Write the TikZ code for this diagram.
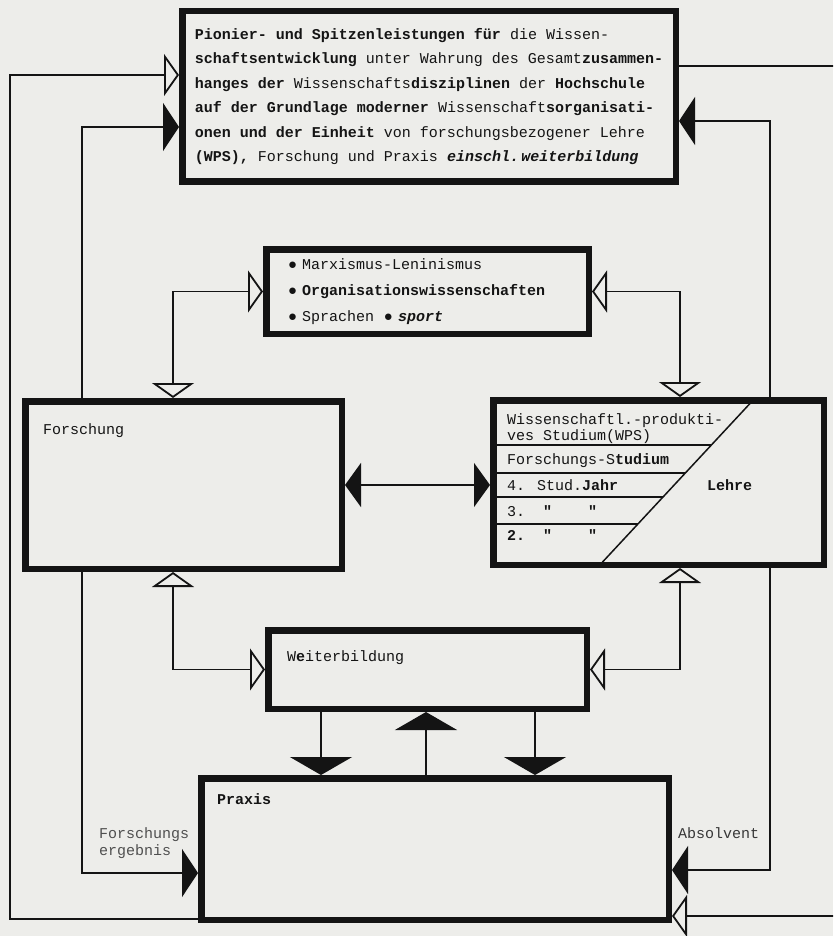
\documentclass[tikz,border=0pt]{standalone}
\usepackage{fontspec}
\setmainfont{Liberation Mono}[WordSpace={1,0,0}]
\newfontfamily\plainmono{Liberation Mono}
\usetikzlibrary{arrows.meta,positioning,calc}
\definecolor{paper}{HTML}{EDEDEA}
\definecolor{ink}{HTML}{141414}
\newcommand{\ditto}{{\plainmono\bfseries\symbol{34}}}
\tikzset{
  typed/.style={font=\fontsize{15pt}{24.5pt}\selectfont, text=ink},
  heavybox/.style={draw=ink, line width=6.5pt, rectangle, anchor=north west, inner sep=0pt},
  link/.style={draw=ink, line width=1.8pt},
  rowline/.style={draw=ink, line width=1.5pt},
  fulltip/.style={-{Triangle[length=16pt,width=48pt]}},
  fulltips/.style={{Triangle[length=16pt,width=44pt]}-{Triangle[length=16pt,width=44pt]}},
  hollowtip/.style={-{Triangle[open,length=15pt,width=42pt]}},
  hollowtips/.style={{Triangle[open,length=15pt,width=42pt]}-{Triangle[open,length=15pt,width=42pt]}},
  wbtip/.style={-{Triangle[length=18pt,width=62pt]}},
  tag/.style={anchor=base west, inner sep=0pt},
}
\begin{document}
\begin{tikzpicture}[x=1pt,y=-1pt, every node/.style={typed}]
  \fill[paper] (0,0) rectangle (833,936);
  \useasboundingbox (0,0) rectangle (833,936);

  % boxes
  \node[heavybox, minimum width=493.5pt, minimum height=170.5pt, align=left] (top) at (179,8) {%
    \textbf{Pionier- und Spitzenleistungen für} die Wissen-\\
    \textbf{schaftsentwicklung} unter Wahrung des Gesamt\textbf{zusammen-}\\
    \textbf{hanges der} Wissenschafts\textbf{disziplinen} der \textbf{Hochschule}\\
    \textbf{auf der Grundlage moderner} Wissenschaft\textbf{sorganisati-}\\
    \textbf{onen und der Einheit} von forschungsbezogener Lehre\\
    \textbf{(WPS),} Forschung und Praxis \textbf{\itshape einschl.\,weiterbildung}};
  \node[heavybox, minimum width=322.5pt, minimum height=84.5pt,
        text width=279pt, align=left, inner xsep=21.75pt,
        font=\fontsize{15pt}{26pt}\selectfont] (mk) at (263,246) {%
    ● Marxismus-Leninismus\\
    ● \textbf{Organisationswissenschaften}\\
    ● Sprachen\ \ ● \textbf{\itshape sport}};
  \node[heavybox, minimum width=316.5pt, minimum height=167.5pt] (fo) at (22,398) {};
  \node[heavybox, minimum width=330.5pt, minimum height=164.5pt] (le) at (490,397) {};
  \node[heavybox, minimum width=318.5pt, minimum height=78.5pt] (wb) at (265,627) {};
  \node[heavybox, minimum width=467.5pt, minimum height=141.5pt] (pr) at (198,775) {};

  % box titles
  \node[tag] (foname) at ($(fo.north west)+(21,36)$) {Forschung};
  \node[tag] (wbname) at ($(wb.north west)+(22,34)$) {W\textbf{e}iterbildung};
  \node[tag] (prname) at ($(pr.north west)+(19,29)$) {\textbf{Praxis}};

  % Lehre table
  \coordinate (dtop) at ($(le.north west)+(263,3.25)$);
  \coordinate (dbot) at ($(le.south west)+(110,-3.25)$);
  \draw[rowline] (dtop) -- (dbot);
  \foreach \t/\rowname in {0.273/r1,0.442/r2,0.588/r3,0.752/r4}{
    \coordinate (\rowname) at ($(dtop)!\t!(dbot)$);
    \draw[rowline] (le.west |- \rowname) -- (\rowname);
  }
  \node[tag, align=left, font=\fontsize{15pt}{16pt}\selectfont] (wps) at (507,440)
    {Wissenschaftl.-produkti-\\ves Studium(WPS)};
  \node[tag] (fstud) at (507,464) {Forschungs-S\textbf{tudium}};
  \node[tag] (jahr4) at (507,490) {4. Stud.\textbf{Jahr}};
  \node[tag] (jahr3) at (507,516) {3.\ \ \ditto\ \ \ \ \ditto};
  \node[tag] (jahr2) at (507,540) {\textbf{2.}\ \ \ditto\ \ \ \ \ditto};
  \node[tag] (lehre) at (707,490) {\textbf{Lehre}};

  % connector labels
  \node[tag, align=left, text=ink!75, font=\fontsize{15pt}{17pt}\selectfont] (ergebnis) at (99,855)
    {Forschungs\\ergebnis};
  \node[tag, text=ink!85] (absolvent) at (678,838) {Absolvent};

  % connector lanes
  \coordinate (xfo) at (82,0);
  \coordinate (xa) at (173,0);
  \coordinate (xb) at (680,0);
  \coordinate (xle) at (770,0);
  \coordinate (xout) at (10,0);
  \coordinate (xfar) at (860,0);
  \coordinate (xw1) at (321,0);
  \coordinate (xw2) at (426,0);
  \coordinate (xw3) at (535,0);
  \coordinate (topin) at ([yshift=21.5pt]top.west);
  \coordinate (prout) at ([yshift=-70pt]pr.west);
  \coordinate (prin) at ([yshift=-67pt]pr.east);

  % connectors
  \draw[link,fulltip] (fo.north -| xfo) |- ([yshift=-30.5pt]top.west);
  \draw[link,fulltip] (le.north -| xle) |- ([yshift=-24.5pt]top.east);
  \draw[link,hollowtip] (prout) -| (xout |- topin) -- (topin);
  \begin{scope}
    \clip (0,0) rectangle (833,936);
    \draw[link,hollowtip] ([yshift=30.5pt]top.east) -| (xfar |- prin) -- (prin);
  \end{scope}
  \draw[link,hollowtips] (fo.north -| xa) |- (mk.west);
  \draw[link,hollowtips] (le.north -| xb) |- (mk.east);
  \draw[link,hollowtips] (fo.south -| xa) |- (wb.west);
  \draw[link,hollowtips] (le.south -| xb) |- (wb.east);
  \draw[link,fulltips] (fo.east) -- (fo.east -| le.west);
  \draw[link,fulltip] (fo.south -| xfo) |- ([yshift=-24pt]pr.west);
  \draw[link,fulltip] (le.south -| xle) |- ([yshift=-21pt]pr.east);
  \draw[link,wbtip] (wb.south -| xw1) -- (pr.north -| xw1);
  \draw[link,wbtip] (pr.north -| xw2) -- (wb.south -| xw2);
  \draw[link,wbtip] (wb.south -| xw3) -- (pr.north -| xw3);
\end{tikzpicture}
\end{document}
